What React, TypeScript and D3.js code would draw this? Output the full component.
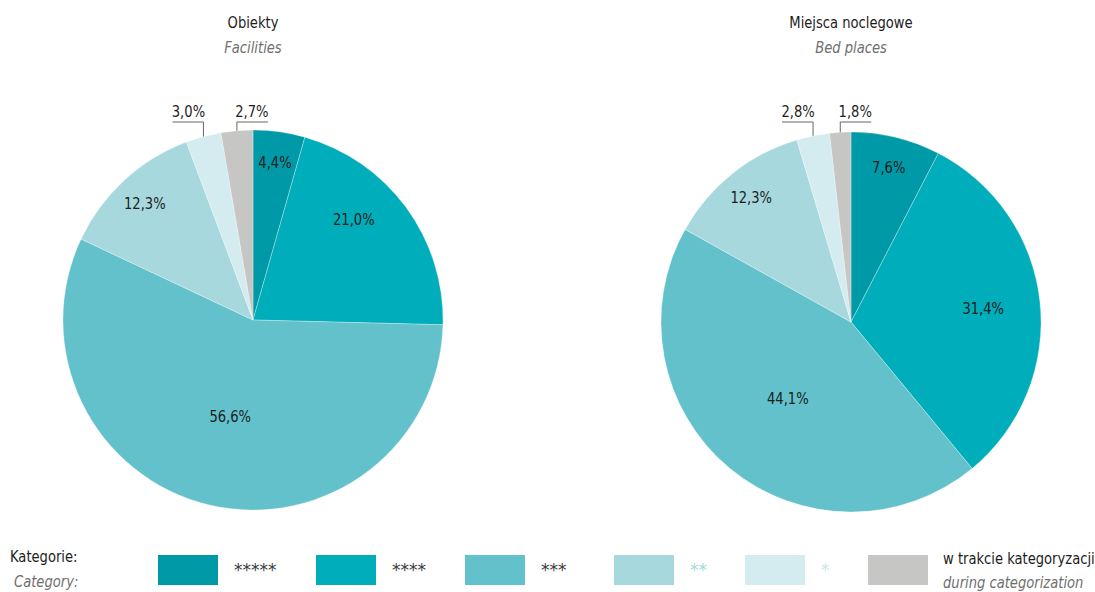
import React from "react";
import * as d3 from "d3";

// categories, colours, shares
const categories = ["*****", "****", "***", "**", "*", "w trakcie kategoryzacji"];
const colors = ["#0099a7", "#00adba", "#62c1cb", "#a6d8de", "#d4ecf0", "#c6c6c4"];
const facilities = [4.4, 21.0, 56.6, 12.3, 3.0, 2.7];
const bedPlaces = [7.6, 31.4, 44.1, 12.3, 2.8, 1.8];

const W = 1095;
const H = 592;
const R = 190;
const FONT = "'DejaVu Sans', sans-serif";
const DARK = "#1d1d1b";
const GREY = "#6f6f6f";
const SX = 0.82; // squeeze to mimic a condensed face

const fmt = (v: number) => v.toFixed(1).replace(".", ",") + "%";

// condensed text: scale x around its own anchor
function T({ x, y, children, anchor = "start", size = 16, italic = false, fill = DARK, baseline }: any) {
  return (
    <text
      transform={`translate(${x},${y}) scale(${SX},1)`}
      textAnchor={anchor}
      dominantBaseline={baseline}
      fontSize={size}
      fontStyle={italic ? "italic" : "normal"}
      fill={fill}
    >
      {children}
    </text>
  );
}

function Pie({ cx, cy, values, title, subtitle }: { cx: number; cy: number; values: number[]; title: string; subtitle: string }) {
  const arcs = d3.pie<number>().sort(null).value(d => d)(values);
  const arc = d3.arc<d3.PieArcDatum<number>>().innerRadius(0).outerRadius(R);
  const small = arcs.filter(a => a.data < 5 && a.index !== 0);
  return (
    <g>
      <T x={cx} y={28} anchor="middle">{title}</T>
      <T x={cx} y={53} anchor="middle" italic fill={GREY}>{subtitle}</T>
      <g transform={`translate(${cx},${cy})`}>
        {arcs.map((a, i) => (
          <path key={i} d={arc(a) || ""} fill={colors[i]} stroke="#fff" strokeWidth={0.3} />
        ))}
        {arcs.filter(a => a.data >= 5 || a.index === 0).map((a, i) => {
          const mid = (a.startAngle + a.endAngle) / 2 - (a.data > 15 && a.data < 25 ? 0.15 : 0);
          const k = a.data > 40 ? 0.52 : a.data > 25 ? 0.7 : a.data > 15 ? 0.75 : 0.84;
          const x = Math.sin(mid) * R * k;
          const y = -Math.cos(mid) * R * k;
          return (
            <T key={i} x={x} y={y} anchor="middle" baseline="central">{fmt(a.data)}</T>
          );
        })}
        {small.map((a, i) => {
          const mid = (a.startAngle + a.endAngle) / 2;
          const px = Math.sin(mid) * R;
          const py = -Math.cos(mid) * R;
          const ly = 122 - cy;
          const dir = i === 0 ? -1 : 1;
          return (
            <g key={i}>
              <polyline points={`${px},${py} ${px},${ly} ${px + dir * 31},${ly}`} fill="none" stroke="#666" strokeWidth={1} />
              <T x={px + dir * 15} y={ly - 5} anchor="middle">{fmt(a.data)}</T>
            </g>
          );
        })}
      </g>
    </g>
  );
}

export default function App() {
  const swatchX = [158, 316, 465, 614, 745, 868];
  const starColors = ["#3a3a3a", "#3a3a3a", "#3a3a3a", colors[3], "#c8e6eb"];
  return (
    <svg width={W} height={H} style={{ position: "absolute", left: 0, top: 0, fontFamily: FONT }}>
      <rect width={W} height={H} fill="#fff" />
      <Pie cx={253} cy={320} values={facilities} title="Obiekty" subtitle="Facilities" />
      <Pie cx={851} cy={322} values={bedPlaces} title="Miejsca noclegowe" subtitle="Bed places" />
      <T x={10} y={562}>Kategorie:</T>
      <T x={14} y={587} italic fill={GREY}>Category:</T>
      {categories.map((c, i) => {
        const x = swatchX[i];
        return (
          <g key={c}>
            <rect x={x} y={555} width={60} height={30} fill={colors[i]} />
            {i < 5 ? (
              <text x={x + 76} y={576} fontSize={17} fill={starColors[i]}>{c}</text>
            ) : (
              <>
                <T x={x + 75} y={564}>{c}</T>
                <T x={x + 75} y={588} italic fill={GREY}>during categorization</T>
              </>
            )}
          </g>
        );
      })}
    </svg>
  );
}
